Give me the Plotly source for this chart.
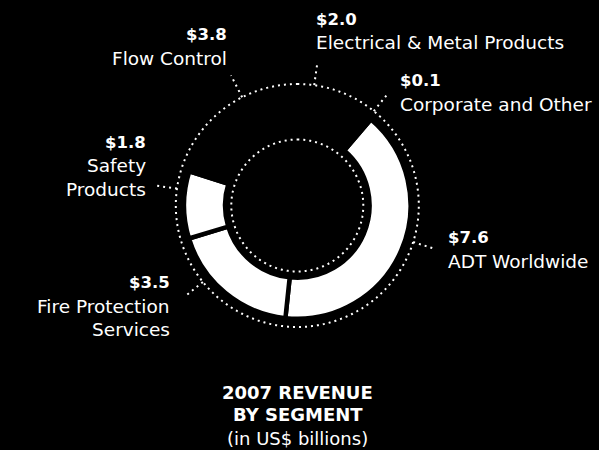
import numpy as np
import plotly.graph_objects as go

# 2007 revenue by segment, US$ billions (clockwise from ADT)
segments = ["ADT Worldwide", "Fire Protection Services", "Safety Products",
            "Flow Control", "Electrical & Metal Products", "Corporate and Other"]
revenue = [7.6, 3.5, 1.8, 3.8, 2.0, 0.1]
value_labels = ["$7.6", "$3.5", "$1.8", "$3.8", "$2.0", "$0.1"]
name_lines = [["ADT Worldwide"], ["Fire Protection", "Services"], ["Safety", "Products"],
              ["Flow Control"], ["Electrical & Metal Products"], ["Corporate and Other"]]
highlighted = [True, True, True, False, False, False]
title_lines = ["2007 REVENUE", "BY SEGMENT", "(in US$ billions)"]

# ---- layout / style ----
W, H = 599, 450
CX, CY = 297.3, 205.5          # ring centre in pixels
R_PLOT = 160                   # polar radius in pixels (radial units == px)
START_DEG = 40.5               # where the first segment begins (clockwise from 12 o'clock)
RING_IN, RING_OUT = 74.5, 111.0
GAP = 4.5
OUTER_DOTS, INNER_DOTS = 121.5, 66.0
DOT_DASH = "2px,4px"
FONT = "DejaVu Sans"
FS_VALUE = 16.5
FS_NAME = 18.5
FS_TITLE = 18

# label placement: leader angle, leader end radius, text x, first-line y, side
leader_deg = [107.5, 231, 278, 333, 8, 39]
leader_end = [144, 144, 144, 146, 143, 144]
label_x = [448, 170, 146, 227, 316, 400]
label_y0 = [237.5, 282.5, 142.5, 35, 19, 81]
label_side = ["left", "right", "right", "right", "left", "left"]
LINE_PITCH = 23.5

total = sum(revenue)
widths = [v / total * 360 for v in revenue]
cum = np.cumsum([0] + widths[:-1])
mids = [START_DEG + c + w / 2 for c, w in zip(cum, widths)]

fig = go.Figure()

fig.add_trace(go.Barpolar(
    theta=mids,
    width=widths,
    base=[RING_IN - GAP / 2] * len(revenue),
    r=[RING_OUT - RING_IN + GAP] * len(revenue),
    marker=dict(color=["white" if h else "black" for h in highlighted],
                line=dict(color="black", width=GAP)),
    hovertext=segments,
    hoverinfo="text",
    showlegend=False,
))

ring_theta = np.linspace(0, 360, 721)
for rad in (OUTER_DOTS, INNER_DOTS):
    fig.add_trace(go.Scatterpolar(
        theta=ring_theta, r=[rad] * len(ring_theta), mode="lines",
        line=dict(color="white", width=2, dash=DOT_DASH),
        hoverinfo="skip", showlegend=False,
    ))

for ang, r_end in zip(leader_deg, leader_end):
    fig.add_trace(go.Scatterpolar(
        theta=[ang, ang], r=[OUTER_DOTS, r_end], mode="lines",
        line=dict(color="white", width=2, dash=DOT_DASH),
        hoverinfo="skip", showlegend=False,
    ))


def px_x(x):
    return x / W


def px_y(y):
    return 1 - y / H


annotations = []
for val, names, x, y0, side in zip(value_labels, name_lines, label_x, label_y0, label_side):
    lines = [(f"<b>{val}</b>", FS_VALUE)] + [(n, FS_NAME) for n in names]
    for i, (txt, fs) in enumerate(lines):
        annotations.append(dict(
            x=px_x(x), y=px_y(y0 + i * LINE_PITCH), xref="paper", yref="paper",
            text=txt, showarrow=False, xanchor=side, yanchor="middle",
            borderpad=0, borderwidth=0,
            font=dict(family=FONT, size=fs, color="white"),
        ))

title_y = [392.5, 414, 438]
for i, (txt, ty) in enumerate(zip(title_lines, title_y)):
    annotations.append(dict(
        x=px_x(297.5), y=px_y(ty), xref="paper", yref="paper",
        text=f"<b>{txt}</b>" if i < 2 else txt, showarrow=False,
        xanchor="center", yanchor="middle",
        borderpad=0, borderwidth=0,
        font=dict(family=FONT, size=FS_TITLE, color="white"),
    ))

fig.update_layout(
    width=W, height=H,
    margin=dict(l=0, r=0, t=0, b=0),
    paper_bgcolor="black",
    plot_bgcolor="black",
    polar=dict(
        domain=dict(x=[(CX - R_PLOT) / W, (CX + R_PLOT) / W],
                    y=[1 - (CY + R_PLOT) / H, 1 - (CY - R_PLOT) / H]),
        bgcolor="black",
        bargap=0,
        radialaxis=dict(range=[0, R_PLOT], visible=False),
        angularaxis=dict(rotation=90, direction="clockwise", visible=False,
                         showgrid=False, showline=False, ticks=""),
    ),
    annotations=annotations,
    showlegend=False,
)

fig.write_html("out.html")
